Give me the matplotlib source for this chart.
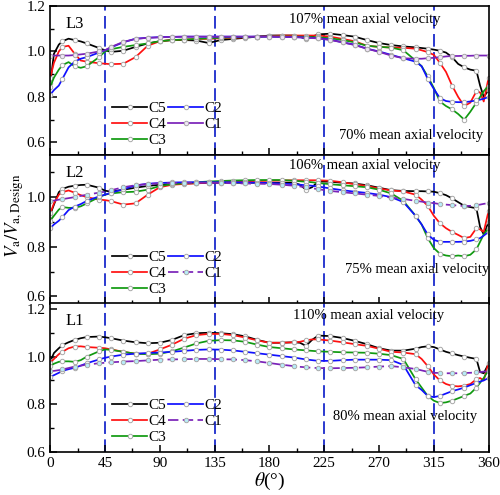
import matplotlib
matplotlib.use('Agg')
import matplotlib.pyplot as plt
import numpy as np
from matplotlib.ticker import MultipleLocator

plt.rcParams['font.family'] = ['Liberation Serif', 'DejaVu Serif']
plt.rcParams['mathtext.fontset'] = 'stix'

# circumferential positions (deg)
theta = [0, 3, 7, 10, 15, 20, 25, 30, 40, 45, 50, 60, 70, 80, 90, 100, 110, 120, 130,
         140, 150, 160, 170, 180, 190, 200, 205, 210, 215, 220, 230, 240, 250, 260,
         270, 280, 290, 300, 305, 310, 315, 320, 325, 330, 335, 340, 345, 350, 353,
         356, 360]

# ---- L3 ----
l3_c5 = [0.86, 0.99, 1.03, 1.045, 1.056, 1.05, 1.044, 1.035, 1.015, 1.005, 0.998, 1.003,
         1.02, 1.035, 1.045, 1.05, 1.05, 1.048, 1.037, 1.05, 1.055, 1.06, 1.065, 1.07,
         1.07, 1.07, 1.065, 1.055, 1.065, 1.075, 1.078, 1.072, 1.065, 1.05, 1.037, 1.028,
         1.022, 1.018, 1.015, 1.012, 1.008, 1.003, 0.995, 0.975, 0.945, 0.93, 0.92, 0.915,
         0.85, 0.80, 0.83]
l3_c4 = [0.885, 0.95, 1.0, 1.02, 1.025, 0.99, 0.96, 0.955, 0.948, 0.946, 0.944, 0.946,
         0.975, 1.025, 1.045, 1.05, 1.052, 1.055, 1.055, 1.058, 1.06, 1.062, 1.065, 1.068,
         1.07, 1.07, 1.07, 1.07, 1.07, 1.07, 1.065, 1.055, 1.045, 1.025, 1.02, 1.017,
         1.016, 1.012, 1.005, 0.997, 0.985, 0.95, 0.91, 0.85, 0.80, 0.76, 0.775, 0.825,
         0.82, 0.78, 0.885]
l3_c3 = [0.845, 0.885, 0.92, 0.94, 0.953, 0.935, 0.928, 0.935, 0.975, 1.0, 1.01, 1.02,
         1.028, 1.035, 1.045, 1.05, 1.052, 1.055, 1.058, 1.06, 1.062, 1.063, 1.065, 1.066,
         1.066, 1.065, 1.065, 1.064, 1.063, 1.062, 1.058, 1.05, 1.04, 1.025, 1.02, 1.017,
         1.005, 0.96, 0.935, 0.89, 0.84, 0.78, 0.76, 0.745, 0.725, 0.70, 0.735, 0.775,
         0.80, 0.825, 0.85]
l3_c2 = [0.81, 0.83, 0.85, 0.88, 0.93, 0.955, 0.968, 0.975, 0.995, 1.005, 1.018, 1.04,
         1.056, 1.06, 1.063, 1.064, 1.065, 1.065, 1.065, 1.065, 1.065, 1.065, 1.065, 1.065,
         1.064, 1.063, 1.062, 1.06, 1.06, 1.058, 1.052, 1.04, 1.03, 1.012, 1.0, 0.985,
         0.97, 0.955, 0.935, 0.88, 0.835, 0.795, 0.782, 0.778, 0.777, 0.777, 0.78, 0.785,
         0.788, 0.792, 0.80]
l3_c1 = [0.982, 0.982, 0.982, 0.982, 0.982, 0.984, 0.987, 0.99, 1.0, 1.005, 1.02, 1.042,
         1.055, 1.06, 1.062, 1.064, 1.065, 1.065, 1.065, 1.065, 1.065, 1.065, 1.065, 1.065,
         1.064, 1.063, 1.062, 1.06, 1.059, 1.057, 1.05, 1.04, 1.028, 1.012, 0.998, 0.982,
         0.97, 0.968, 0.968, 0.97, 0.972, 0.975, 0.978, 0.98, 0.98, 0.981, 0.981, 0.982,
         0.982, 0.982, 0.982]

# ---- L2 ----
l2_c5 = [0.93, 0.97, 1.02, 1.033, 1.042, 1.046, 1.049, 1.05, 1.038, 1.026, 1.022, 1.03,
         1.038, 1.045, 1.05, 1.053, 1.055, 1.056, 1.057, 1.058, 1.058, 1.058, 1.058, 1.058,
         1.058, 1.058, 1.05, 1.03, 1.04, 1.063, 1.062, 1.058, 1.055, 1.048, 1.038, 1.028,
         1.025, 1.024, 1.024, 1.023, 1.022, 1.016, 1.008, 0.995, 0.98, 0.965, 0.96, 0.955,
         0.88, 0.85, 0.90]
l2_c4 = [0.935, 0.975, 1.01, 1.02, 1.027, 1.018, 1.008, 1.0, 0.99, 0.988, 0.984, 0.97,
         0.975, 1.01, 1.04, 1.05, 1.053, 1.056, 1.058, 1.06, 1.062, 1.064, 1.065, 1.066,
         1.067, 1.068, 1.068, 1.068, 1.068, 1.068, 1.066, 1.06, 1.052, 1.045, 1.035, 1.027,
         1.023, 1.01, 0.99, 0.965, 0.925, 0.895, 0.875, 0.86, 0.848, 0.835, 0.84, 0.875,
         0.87, 0.86, 0.945]
l2_c3 = [0.905, 0.925, 0.95, 0.96, 0.957, 0.957, 0.963, 0.975, 1.0, 1.01, 1.015, 1.02,
         1.022, 1.03, 1.045, 1.052, 1.056, 1.06, 1.063, 1.065, 1.067, 1.068, 1.069, 1.069,
         1.069, 1.066, 1.064, 1.062, 1.06, 1.057, 1.052, 1.048, 1.044, 1.04, 1.03, 1.015,
         0.985, 0.925, 0.89, 0.835, 0.795, 0.772, 0.765, 0.762, 0.765, 0.762, 0.768, 0.79,
         0.82, 0.85, 0.875]
l2_c2 = [0.875, 0.89, 0.905, 0.92, 0.948, 0.962, 0.972, 0.985, 1.003, 1.01, 1.018, 1.032,
         1.047, 1.054, 1.057, 1.059, 1.06, 1.06, 1.06, 1.06, 1.06, 1.059, 1.058, 1.057,
         1.055, 1.052, 1.05, 1.048, 1.046, 1.043, 1.035, 1.028, 1.022, 1.017, 1.01, 1.0,
         0.98, 0.925, 0.89, 0.85, 0.828, 0.82, 0.82, 0.82, 0.82, 0.821, 0.824, 0.83,
         0.835, 0.845, 0.86]
l2_c1 = [0.985, 0.986, 0.99, 0.992, 0.996, 1.0, 1.005, 1.01, 1.018, 1.022, 1.028, 1.04,
         1.048, 1.053, 1.056, 1.057, 1.058, 1.058, 1.058, 1.057, 1.056, 1.055, 1.054, 1.053,
         1.05, 1.046, 1.043, 1.04, 1.036, 1.032, 1.025, 1.02, 1.015, 1.01, 1.005, 0.998,
         0.993, 0.985, 0.982, 0.978, 0.976, 0.972, 0.97, 0.968, 0.966, 0.964, 0.965, 0.968,
         0.97, 0.973, 0.976]

# ---- L1 ----
l1_c5 = [0.98, 1.015, 1.035, 1.048, 1.06, 1.07, 1.077, 1.082, 1.084, 1.081, 1.077, 1.067,
         1.06, 1.056, 1.058, 1.07, 1.09, 1.098, 1.1, 1.098, 1.094, 1.085, 1.07, 1.058,
         1.058, 1.06, 1.058, 1.045, 1.07, 1.088, 1.086, 1.078, 1.066, 1.052, 1.035, 1.025,
         1.025, 1.033, 1.04, 1.043, 1.04, 1.03, 1.02, 1.013, 1.006, 1.0, 0.995, 0.99,
         0.935, 0.93, 0.97]
l1_c4 = [0.975, 0.99, 1.01, 1.02, 1.035, 1.042, 1.043, 1.04, 1.037, 1.035, 1.03, 1.02,
         1.012, 1.012, 1.03, 1.05, 1.075, 1.09, 1.095, 1.095, 1.09, 1.08, 1.068, 1.058,
         1.058, 1.06, 1.062, 1.068, 1.072, 1.072, 1.067, 1.06, 1.052, 1.045, 1.033, 1.02,
         1.017, 1.01, 0.99, 0.96, 0.925, 0.9, 0.885, 0.877, 0.875, 0.878, 0.885, 0.905,
         0.91, 0.90, 0.975]
l1_c3 = [0.96, 0.97, 0.978, 0.98, 0.98, 0.978, 0.985, 1.0, 1.022, 1.03, 1.028, 1.02,
         1.012, 1.01, 1.012, 1.022, 1.038, 1.055, 1.066, 1.069, 1.068, 1.062, 1.05, 1.04,
         1.035, 1.03, 1.028, 1.026, 1.024, 1.022, 1.02, 1.018, 1.017, 1.016, 1.012, 1.006,
         0.99, 0.905, 0.87, 0.835, 0.815, 0.805, 0.808, 0.815, 0.825, 0.835, 0.845, 0.87,
         0.89, 0.91, 0.945]
l1_c2 = [0.915, 0.922, 0.932, 0.94, 0.947, 0.953, 0.962, 0.972, 0.988, 0.995, 1.0, 1.008,
         1.012, 1.015, 1.017, 1.02, 1.024, 1.028, 1.03, 1.029, 1.026, 1.02, 1.014, 1.008,
         1.002, 0.996, 0.992, 0.988, 0.985, 0.982, 0.982, 0.985, 0.987, 0.987, 0.987, 0.985,
         0.965, 0.88, 0.86, 0.835, 0.83, 0.835, 0.845, 0.855, 0.862, 0.87, 0.88, 0.89,
         0.895, 0.90, 0.91]
l1_c1 = [0.938, 0.94, 0.943, 0.946, 0.952, 0.958, 0.962, 0.966, 0.972, 0.974, 0.976, 0.979,
         0.981, 0.984, 0.987, 0.988, 0.989, 0.99, 0.99, 0.989, 0.988, 0.985, 0.98, 0.973,
         0.966, 0.96, 0.957, 0.955, 0.953, 0.952, 0.951, 0.952, 0.953, 0.955, 0.958, 0.96,
         0.955, 0.948, 0.942, 0.936, 0.932, 0.931, 0.93, 0.93, 0.93, 0.931, 0.932, 0.934,
         0.935, 0.937, 0.938]

panel_names = ['L3', 'L2', 'L1']
high_text = ['107% mean axial velocity', '106% mean axial velocity', '110% mean axial velocity']
low_text = ['70% mean axial velocity', '75% mean axial velocity', '80% mean axial velocity']
case_names = ['C5', 'C4', 'C3', 'C2', 'C1']
panels = [[l3_c5, l3_c4, l3_c3, l3_c2, l3_c1],
          [l2_c5, l2_c4, l2_c3, l2_c2, l2_c1],
          [l1_c5, l1_c4, l1_c3, l1_c2, l1_c1]]

colors = ['black', '#ff1010', '#109a10', '#1010ff', '#7a22b8']
ylims = [(0.545, 1.2), (0.57, 1.17), (0.6, 1.225)]
hi_pos = [(258, 1.141), (258, 1.126), (261, 1.173)]
lo_pos = [(296, 0.629), (301, 0.707), (291, 0.747)]
th = np.array(theta)
marks = (th % 10 == 0)

fig = plt.figure(figsize=(5.0, 4.95), dpi=100)
bottoms = [0.687, 0.386, 0.087]
h = 0.301
axes = []
for i in range(3):
    ax = fig.add_axes([0.1006, bottoms[i], 0.8766, h])
    axes.append(ax)
    for j in range(5):
        ls = '-'
        mfc = 'white'
        if j == 4 and i > 0:
            ls = (0, (6, 2.5))
            mfc = '#b8ecf8'
        elif j == 4:
            mfc = '#f0e4f8'
        ax.plot(th, panels[i][j], color=colors[j], lw=1.25, ls=ls,
                marker='o', markersize=3.2, markerfacecolor=mfc,
                markeredgecolor='#a8a8a8', markeredgewidth=0.7,
                markevery=list(marks), label=case_names[j])
    for v in [45, 135, 225, 315]:
        ax.axvline(v, color='#1a2acc', lw=1.3, ls=(0, (7, 3)), zorder=0)
    ax.set_xlim(0, 360)
    ax.set_ylim(*ylims[i])
    ax.xaxis.set_major_locator(MultipleLocator(45))
    ax.xaxis.set_minor_locator(MultipleLocator(22.5))
    ax.yaxis.set_major_locator(MultipleLocator(0.2))
    ax.yaxis.set_minor_locator(MultipleLocator(0.1))
    ax.tick_params(which='both', direction='in', top=False, right=False, labelsize=11)
    ax.tick_params(which='major', length=5, width=1.1)
    ax.tick_params(which='minor', length=3, width=1.0)
    ax.yaxis.set_major_formatter(matplotlib.ticker.FormatStrFormatter('%.1f'))
    for s in ax.spines.values():
        s.set_linewidth(1.2)
    if i < 2:
        ax.set_xticklabels([])
    ax.text(0.035, 0.88, panel_names[i], transform=ax.transAxes, fontsize=12,
            ha='left', va='center')
    ax.text(hi_pos[i][0], hi_pos[i][1], high_text[i], fontsize=10.5, ha='center', va='center')
    ax.text(lo_pos[i][0], lo_pos[i][1], low_text[i], fontsize=10.5, ha='center', va='center')
    ax.legend(loc='lower left', bbox_to_anchor=(0.12, -0.01), ncol=2, frameon=False,
              fontsize=11, handlelength=2.3, handletextpad=0.1, columnspacing=0.1,
              labelspacing=0.15, borderaxespad=0.2, numpoints=1)

axes[2].set_xticks([0, 45, 90, 135, 180, 225, 270, 315, 360])
axes[2].set_xlabel(r'$\theta$(°)', fontsize=14, labelpad=1)
fig.text(0.03, 0.565, r'$V_{\mathrm{a}}/V_{\mathrm{a,Design}}$', rotation=90,
         fontsize=13.5, ha='center', va='center')

fig.savefig('out.png', dpi=100)
